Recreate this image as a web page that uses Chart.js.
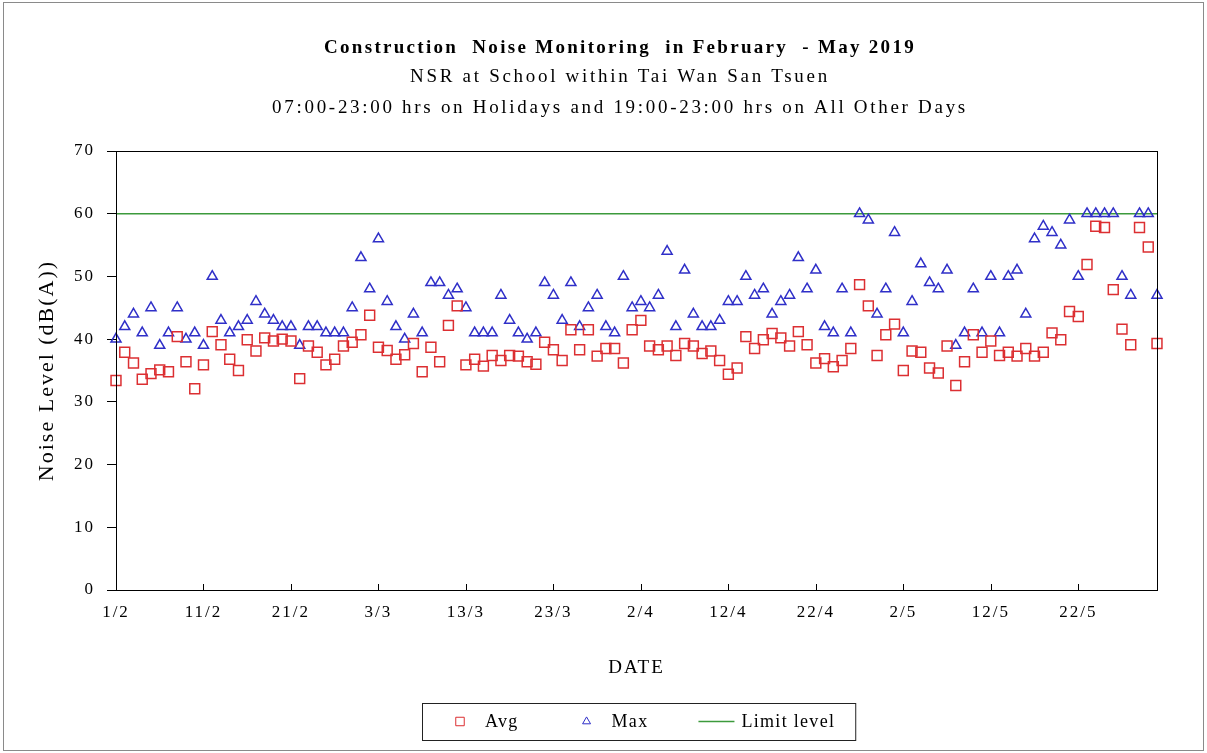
<!DOCTYPE html>
<html>
<head>
<meta charset="utf-8">
<title>Construction Noise Monitoring in February - May 2019</title>
<script src="https://cdn.jsdelivr.net/npm/chart.js@4.4.1/dist/chart.umd.min.js"></script>
<style>
  html, body { margin: 0; padding: 0; background: #fff; }
  #wrap { width: 1207px; height: 753px; }
</style>
</head>
<body>
<div id="wrap"><canvas id="noise-chart" width="1207" height="753"></canvas></div>
<script>
// ═══════════════════════════════════════════
// Construction Noise Monitoring – Feb to May 2019
// NSR at School within Tai Wan San Tsuen
// ═══════════════════════════════════════════

// ── Data ──
const dates = [
  '1/2','2/2','3/2','4/2','5/2','6/2','7/2','8/2','9/2','10/2','11/2','12/2','13/2','14/2',
  '15/2','16/2','17/2','18/2','19/2','20/2','21/2','22/2','23/2','24/2','25/2','26/2','27/2','28/2',
  '1/3','2/3','3/3','4/3','5/3','6/3','7/3','8/3','9/3','10/3','11/3','12/3','13/3','14/3','15/3','16/3',
  '17/3','18/3','19/3','20/3','21/3','22/3','23/3','24/3','25/3','26/3','27/3','28/3','29/3','30/3','31/3',
  '1/4','2/4','3/4','4/4','5/4','6/4','7/4','8/4','9/4','10/4','11/4','12/4','13/4','14/4','15/4',
  '16/4','17/4','18/4','19/4','20/4','21/4','22/4','23/4','24/4','25/4','26/4','27/4','28/4','29/4','30/4',
  '1/5','2/5','3/5','4/5','5/5','6/5','7/5','8/5','9/5','10/5','11/5','12/5','13/5','14/5','15/5','16/5',
  '17/5','18/5','19/5','20/5','21/5','22/5','23/5','24/5','25/5','26/5','27/5','28/5','29/5','30/5','31/5'
];

const tickLabels = ['1/2', '11/2', '21/2', '3/3', '13/3', '23/3', '2/4', '12/4', '22/4', '2/5', '12/5', '22/5'];

// Avg level, dB(A)
const avgLevel = [
  33.4, 37.9, 36.2, 33.6, 34.5, 35.1, 34.8, 40.4, 36.4, 32.1,
  35.9, 41.2, 39.1, 36.8, 35.0, 39.9, 38.1, 40.2, 39.7, 40.0,
  39.7, 33.7, 38.9, 37.9, 35.9, 36.8, 38.9, 39.5, 40.7, 43.8,
  38.7, 38.2, 36.8, 37.5, 39.3, 34.8, 38.7, 36.4, 42.2, 45.3,
  35.9, 36.8, 35.7, 37.4, 36.6, 37.4, 37.3, 36.4, 36.0, 39.5,
  38.3, 36.6, 41.5, 38.3, 41.5, 37.3, 38.5, 38.5, 36.2, 41.5,
  43.0, 38.9, 38.3, 38.9, 37.4, 39.3, 38.9, 37.7, 38.1, 36.6,
  34.4, 35.4, 40.4, 38.5, 39.9, 40.9, 40.2, 38.9, 41.2, 39.1,
  36.2, 36.9, 35.6, 36.6, 38.5, 48.7, 45.3, 37.4, 40.7, 42.4,
  35.0, 38.1, 37.9, 35.4, 34.6, 38.9, 32.6, 36.4, 40.7, 37.9,
  39.7, 37.4, 37.9, 37.3, 38.5, 37.3, 37.9, 41.0, 39.9, 44.4,
  43.6, 51.9, 58.0, 57.8, 47.9, 41.6, 39.1, 57.8, 54.7, 39.3
];

// Max level, dB(A)
const maxLevel = [
  40, 42, 44, 41, 45, 39, 41, 45, 40, 41,
  39, 50, 43, 41, 42, 43, 46, 44, 43, 42,
  42, 39, 42, 42, 41, 41, 41, 45, 53, 48,
  56, 46, 42, 40, 44, 41, 49, 49, 47, 48,
  45, 41, 41, 41, 47, 43, 41, 40, 41, 49,
  47, 43, 49, 42, 45, 47, 42, 41, 50, 45,
  46, 45, 47, 54, 42, 51, 44, 42, 42, 43,
  46, 46, 50, 47, 48, 44, 46, 47, 53, 48,
  51, 42, 41, 48, 41, 60, 59, 44, 48, 57,
  41, 46, 52, 49, 48, 51, 39, 41, 48, 41,
  50, 41, 50, 51, 44, 56, 58, 57, 55, 59,
  50, 60, 60, 60, 60, 50, 47, 60, 60, 47
];

const limitLevel = 60;

// ── Styles ──
const SERIF = '"Liberation Serif", "Times New Roman", serif';
const RED = '#dc2f32';
const BLUE = '#2f2fc8';
const GREEN = '#3c9a3c';

// ── Plugin: titles, plot frame, inward x ticks, boxed legend, outer border ──
const excelLook = {
  id: 'excelLook',
  beforeUpdate(chart) {
    chart.ctx.letterSpacing = '2px';
  },
  afterDraw(chart) {
    const { ctx, chartArea: a } = chart;
    const xs = chart.scales.x;

    ctx.save();
    ctx.strokeStyle = '#000';
    ctx.lineWidth = 1;
    ctx.strokeRect(a.left + 0.5, a.top + 0.5, a.right - a.left, a.bottom - a.top);

    // x ticks point into the plot
    ctx.beginPath();
    tickLabels.forEach(lab => {
      const px = Math.round(xs.getPixelForValue(dates.indexOf(lab))) + 0.5;
      ctx.moveTo(px, a.bottom);
      ctx.lineTo(px, a.bottom - 6);
    });
    ctx.stroke();

    // chart titles
    ctx.fillStyle = '#000';
    ctx.textAlign = 'center';
    ctx.textBaseline = 'middle';
    ctx.font = 'bold 19px ' + SERIF;
    ctx.letterSpacing = '2.3px';
    ctx.fillText('Construction  Noise Monitoring  in February  - May 2019', 620, 48);
    ctx.font = '19px ' + SERIF;
    ctx.letterSpacing = '2.7px';
    ctx.fillText('NSR at School within Tai Wan San Tsuen', 620, 77);
    ctx.fillText('07:00-23:00 hrs on Holidays and 19:00-23:00 hrs on All Other Days', 620, 108);

    // legend box
    ctx.font = '18px ' + SERIF;
    ctx.letterSpacing = '1.3px';
    ctx.textAlign = 'left';
    const pad = 20, slot = 36, textGap = 7, itemGap = 50;
    const items = chart.data.datasets.map(ds => ({ ds, w: ctx.measureText(ds.label).width }));
    const total = pad * 2 + items.reduce((s, it) => s + slot + textGap + it.w, 0) + itemGap * (items.length - 1);
    const boxLeft = Math.round((a.left + a.right) / 2 - total / 2) + 2;
    const boxTop = 703, boxH = 37, midY = boxTop + boxH / 2;
    ctx.strokeStyle = '#222';
    ctx.strokeRect(boxLeft + 0.5, boxTop + 0.5, total, boxH);

    let x = boxLeft + pad;
    items.forEach(({ ds, w }) => {
      ctx.strokeStyle = ds.borderColor;
      ctx.fillStyle = 'rgba(0,0,0,0)';
      if (ds.showLine === false) {
        Chart.helpers.drawPoint(ctx, {
          pointStyle: ds.pointStyle, radius: ds.pointStyle === 'rect' ? 6 : 4.6,
          rotation: 0, borderWidth: 1.5
        }, x + slot / 2, midY);
      } else {
        ctx.lineWidth = ds.borderWidth;
        ctx.beginPath();
        ctx.moveTo(x, midY);
        ctx.lineTo(x + slot, midY);
        ctx.stroke();
      }
      ctx.fillStyle = '#000';
      ctx.fillText(ds.label, x + slot + textGap, midY + 1);
      x += slot + textGap + w + itemGap;
    });

    // chart area border
    ctx.strokeStyle = '#8a8a8a';
    ctx.lineWidth = 1;
    ctx.strokeRect(3.5, 2.5, chart.width - 7, chart.height - 5);
    ctx.restore();
  }
};

// ── Chart ──
new Chart(document.getElementById('noise-chart'), {
  type: 'line',
  data: {
    labels: dates,
    datasets: [
      {
        label: 'Avg',
        data: avgLevel,
        showLine: false,
        pointStyle: 'rect',
        pointRadius: 7,
        pointBorderWidth: 1.5,
        borderColor: RED,
        pointBorderColor: RED,
        pointBackgroundColor: 'rgba(0,0,0,0)',
        clip: false,
      },
      {
        label: 'Max',
        data: maxLevel,
        showLine: false,
        pointStyle: 'triangle',
        pointRadius: 5.8,
        pointBorderWidth: 1.5,
        borderColor: BLUE,
        pointBorderColor: BLUE,
        pointBackgroundColor: 'rgba(0,0,0,0)',
        clip: false,
      },
      {
        label: 'Limit level',
        data: [{ x: dates[0], y: limitLevel }, { x: dates[dates.length - 1], y: limitLevel }],
        borderColor: GREEN,
        borderWidth: 1.5,
        pointRadius: 0,
        clip: false,
      }
    ]
  },
  options: {
    responsive: false,
    animation: false,
    events: [],
    layout: { padding: { left: 20, top: 151, right: 50, bottom: 74 } },
    plugins: {
      legend: { display: false },
      title: { display: false },
      tooltip: { enabled: false }
    },
    scales: {
      x: {
        type: 'category',
        offset: false,
        afterFit: s => { s.height = 89; },
        grid: { drawOnChartArea: false, drawTicks: false },
        border: { display: true, color: '#000', width: 1 },
        ticks: {
          autoSkip: false,
          maxRotation: 0,
          padding: 12,
          color: '#000',
          font: { family: SERIF, size: 17 },
          callback(value, index) {
            const lab = dates[index];
            return tickLabels.includes(lab) ? lab : null;
          }
        },
        title: {
          display: true,
          text: 'DATE',
          color: '#000',
          font: { family: SERIF, size: 19 },
          padding: { top: 0, bottom: 0 }
        }
      },
      y: {
        min: 0,
        max: 70,
        afterFit: s => { s.width = 96; },
        grid: { drawOnChartArea: false, drawTicks: true, tickLength: 9, color: '#000' },
        border: { display: true, color: '#000', width: 1 },
        ticks: {
          stepSize: 10,
          padding: 12,
          color: '#000',
          font: { family: SERIF, size: 17 }
        },
        title: {
          display: true,
          text: 'Noise Level (dB(A))',
          color: '#000',
          font: { family: SERIF, size: 22 },
          padding: { top: 14, bottom: 0 }
        }
      }
    }
  },
  plugins: [excelLook]
});
</script>
</body>
</html>
